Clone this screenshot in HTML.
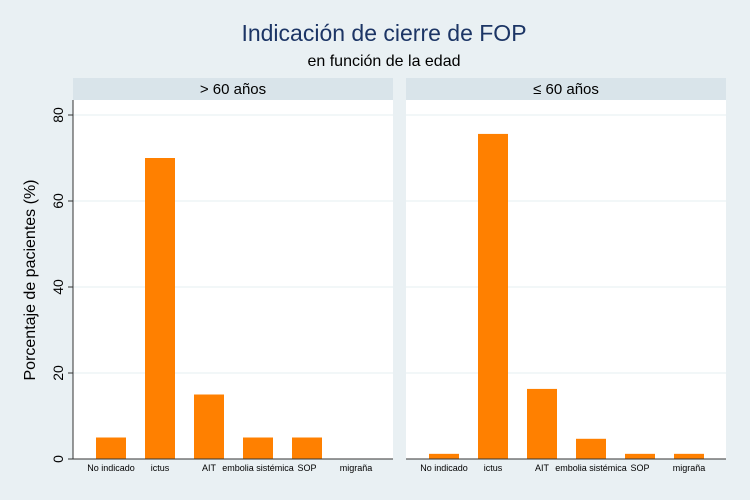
<!DOCTYPE html>
<html><head><meta charset="utf-8"><style>
body{margin:0;background:#e9f0f3}
svg{display:block;font-family:"Liberation Sans",sans-serif}
</style></head><body>
<svg id="c" width="750" height="500">
<rect width="750" height="500" fill="#e9f0f3"/>
<text x="384" y="41" text-anchor="middle" font-size="23" fill="#1c3565">Indicación de cierre de FOP</text>
<text x="384" y="66" text-anchor="middle" font-size="16" fill="#000">en función de la edad</text>
<text transform="translate(35,280) rotate(-90)" text-anchor="middle" font-size="16" fill="#000">Porcentaje de pacientes (%)</text>
</svg>
<script>
const categories=["No indicado","ictus","AIT","embolia sistémica","SOP","migraña"];
const panels=["> 60 años","≤ 60 años"];
const valuesOver60=[5,70,15,5,5,0];
const valuesUnder60=[1.2,75.6,16.3,4.7,1.2,1.2];
const yTicks=[0,20,40,60,80];
const series=[valuesOver60,valuesUnder60];
const svg=document.getElementById('c');
const NS="http://www.w3.org/2000/svg";
const y0=459,yTop=100,pxPer=4.3;
const y=v=>y0-v*pxPer;
const panelX=[73,406],panelW=320;
const xc=(p,i)=>panelX[p]+38+i*49;
function mk(t,a,parent){const e=document.createElementNS(NS,t);for(const k in a)e.setAttribute(k,a[k]);(parent||svg).appendChild(e);return e;}
for(let p=0;p<2;p++){
  const g=mk('g',{});
  
  
  const bg=mk('rect',{x:panelX[p],y:yTop,width:panelW,height:y0-yTop,fill:'#fff'},g);
  
  
  const hd=mk('rect',{x:panelX[p],y:78,width:panelW,height:22,fill:'#d9e4ea'},g);
  
  
  const ht=mk('text',{x:panelX[p]+panelW/2,y:94,'text-anchor':'middle','font-size':15,fill:'#000'},g);
  ht.textContent=panels[p];
  
  
  yTicks.forEach(t=>{if(t>0){const gl=mk('line',{x1:panelX[p],x2:panelX[p]+panelW,y1:y(t),y2:y(t),stroke:'#e6eff1','stroke-width':1},g);
    
    }});
  series[p].forEach((v,i)=>{
    const b=mk('rect',{x:xc(p,i)-15,y:y(v),width:30,height:v*pxPer,fill:'#ff8000'},g);
    
    
    const lb=mk('text',{x:xc(p,i),y:471,'text-anchor':'middle','font-size':9,fill:'#000'},g);
    lb.textContent=categories[i];
    
    
  });
  const ax=mk('line',{x1:panelX[p],x2:panelX[p]+panelW,y1:y0,y2:y0,stroke:'#333','stroke-width':1},g);
  
  
}
const ya=mk('line',{x1:73,x2:73,y1:yTop,y2:y0,stroke:'#333','stroke-width':1});


yTicks.forEach(t=>{
  const tk=mk('line',{x1:68,x2:73,y1:y(t),y2:y(t),stroke:'#333'});
  
  
  const tl=mk('text',{transform:`translate(63,${y(t)}) rotate(-90)`,'text-anchor':'middle','font-size':14,fill:'#000'});
  tl.textContent=t;
  
  
});
</script>
</body></html>
